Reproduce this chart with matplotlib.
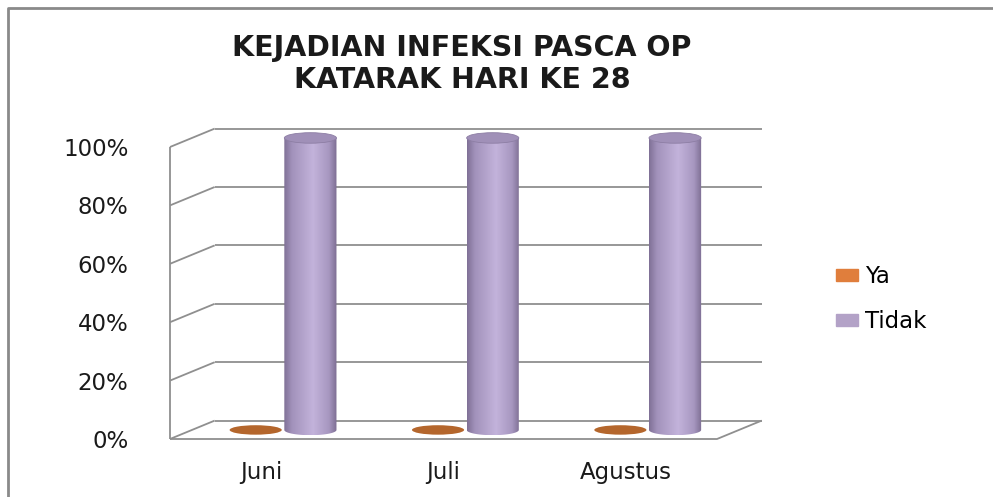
import numpy as np
import matplotlib
matplotlib.use('Agg')
import matplotlib.pyplot as plt
from matplotlib.patches import Ellipse, PathPatch, Patch
from matplotlib.path import Path
from matplotlib.colors import LinearSegmentedColormap
from matplotlib.lines import Line2D

plt.rcParams['font.family'] = ['DejaVu Sans']

################## Data ##################
categories = ['Juni', 'Juli', 'Agustus']
ya = [0, 0, 0]            # percent
tidak = [100, 100, 100]   # percent
series_names = ['Ya', 'Tidak']
yticks = [0, 20, 40, 60, 80, 100]
title = 'KEJADIAN INFEKSI PASCA OP\nKATARAK HARI KE 28'

################## Style ##################
W, H = 993, 497
grid_col = '#8f8f8f'
ya_col = '#b4662c'
ya_leg = '#e07e3c'
tidak_leg = '#b3a2c7'
tidak_top = '#a090b8'
depth_dx, depth_dy = 0.245, 6.3      # back wall offset (category units, percent)
mid_dx, mid_dy = 0.12, 3.1           # columns sit half way into the depth
offsets = [-0.15, 0.15]
rad_x, rad_y = 0.143, 1.8

fig = plt.figure(figsize=(W / 100, H / 100), dpi=100)
ax = fig.add_axes([170 / W, 58 / H, 547 / W, 292 / H])
ax.set_xlim(-0.5, 2.5)
ax.set_ylim(0, 100)
for s in ax.spines.values():
    s.set_visible(False)

# walls / floor
x0, x1 = -0.5, len(categories) - 0.5
kw = dict(color=grid_col, lw=1.3, clip_on=False, solid_capstyle='butt', zorder=1)
for t in yticks:
    ax.plot([x0, x0 + depth_dx], [t, t + depth_dy], **kw)
    ax.plot([x0 + depth_dx, x1 + depth_dx], [t + depth_dy, t + depth_dy], **kw)
ax.plot([x0, x0], [0, 100], **kw)
ax.plot([x0, x1, x1 + depth_dx], [0, 0, depth_dy], **kw)

# ticks
ax.set_yticks(yticks)
ax.set_yticklabels(['%d%%' % t for t in yticks], fontsize=16.5, color='#1a1a1a')
ax.set_xticks(range(len(categories)))
ax.set_xticklabels(categories, fontsize=16.5, color='#1a1a1a')
ax.tick_params(axis='y', length=0, pad=30)
ax.tick_params(axis='x', length=0, pad=16)

cmap = LinearSegmentedColormap.from_list('cyl', [
    (0.0, '#7f7096'), (0.15, '#a292bb'), (0.55, '#c3b3db'),
    (0.85, '#a797c0'), (1.0, '#7c6d92')])
grad = np.linspace(0, 1, 256).reshape(1, -1)

def cylinder(xc, base, top):
    t = np.linspace(np.pi, 2 * np.pi, 40)
    verts = [(xc - rad_x, top)]
    verts += [(xc + rad_x * np.cos(a), base + rad_y * np.sin(a)) for a in t]
    verts += [(xc + rad_x, top), (xc - rad_x, top)]
    codes = [Path.MOVETO] + [Path.LINETO] * (len(verts) - 2) + [Path.CLOSEPOLY]
    body = PathPatch(Path(verts, codes), facecolor='none', edgecolor='none',
                     clip_on=False)
    ax.add_patch(body)
    im = ax.imshow(grad, cmap=cmap, aspect='auto', zorder=3,
                   extent=[xc - rad_x, xc + rad_x, base - rad_y, top])
    im.set_clip_box(fig.bbox)
    im.set_clip_path(body)
    ax.add_patch(Ellipse((xc, top), 2 * rad_x, 2 * rad_y, facecolor=tidak_top,
                         edgecolor='#8d7ea4', lw=0.6, zorder=4, clip_on=False))

for i in range(len(categories)):
    xc = i + offsets[0] + mid_dx
    if ya[i] == 0:
        ax.add_patch(Ellipse((xc, mid_dy), 2 * rad_x, 2 * rad_y * 0.9,
                             facecolor=ya_col, edgecolor='none', zorder=3))
    else:
        ax.bar(xc, ya[i], bottom=mid_dy, width=2 * rad_x, color=ya_col, zorder=3)
    cylinder(i + offsets[1] + mid_dx, mid_dy, tidak[i] + mid_dy)

ax.set_xlim(-0.5, 2.5)
ax.set_ylim(0, 100)

# title
fig.text(462 / W, 1 - 64 / H, title, ha='center', va='center', fontsize=20.5,
         fontweight='bold', color='#1a1a1a', linespacing=1.2)

# legend
handles = [Patch(color=ya_leg), Patch(color=tidak_leg)]
fig.legend(handles, series_names, loc='center left',
           bbox_to_anchor=(836 / W, 1 - 299 / H), frameon=False, fontsize=16.5,
           handlelength=0.95, handleheight=0.45, labelspacing=0.95,
           handletextpad=0.3, borderpad=0, borderaxespad=0)

# outer frame (left and top edges)
fig.add_artist(Line2D([8 / W, 8 / W, 1], [0, 1 - 8 / H, 1 - 8 / H],
                      transform=fig.transFigure, color='#8a8a8a', lw=2))

fig.savefig('out.png', dpi=100)
